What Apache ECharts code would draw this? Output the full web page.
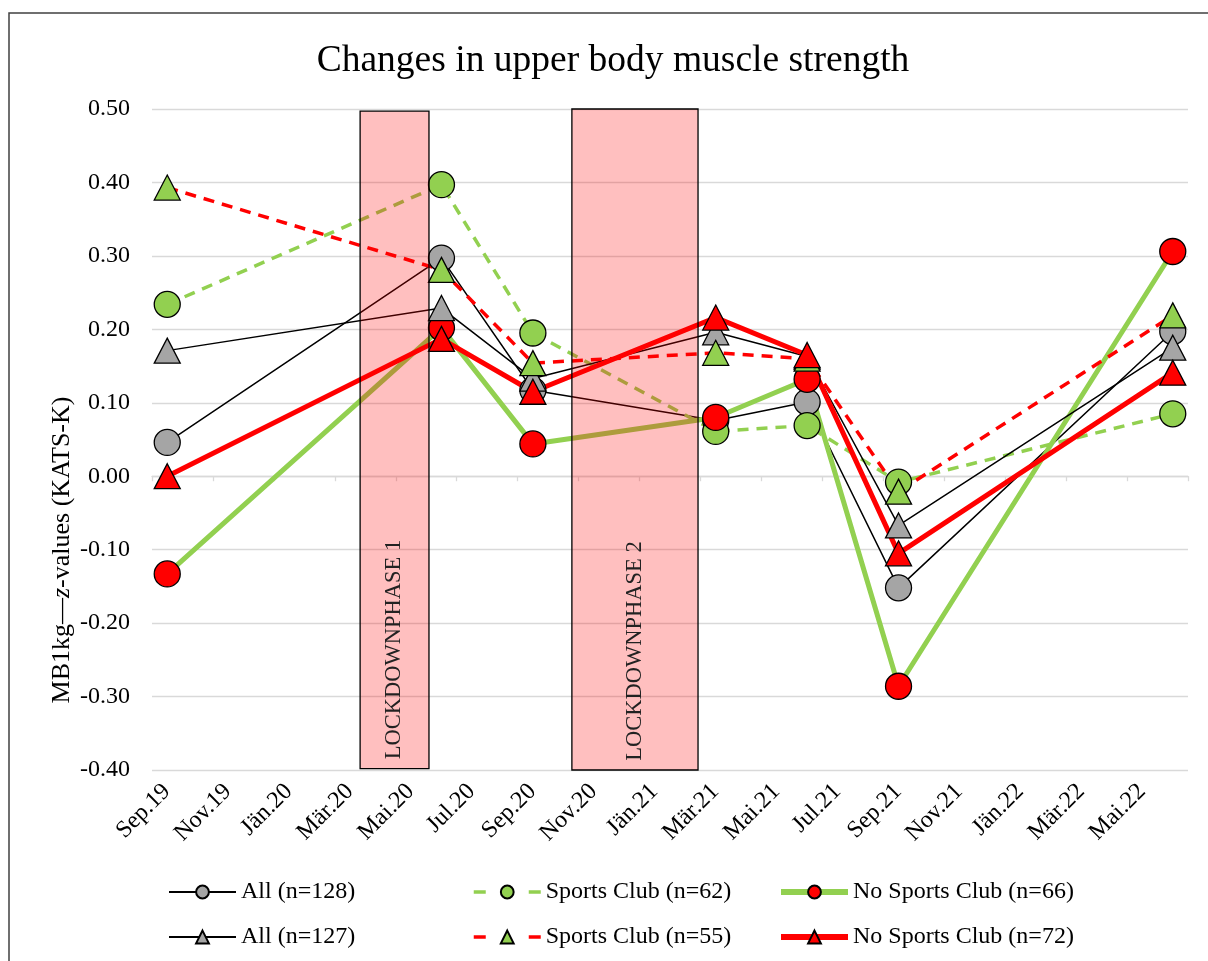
<!DOCTYPE html>
<html>
<head>
<meta charset="utf-8">
<script src="https://cdn.jsdelivr.net/npm/echarts@6/dist/echarts.min.js"></script>
<style>
  html, body { margin: 0; padding: 0; background: #fff; }
  #chart { width: 1208px; height: 961px; }
</style>
</head>
<body>
<div id="chart"></div>
<script>
// Tick labels every two months, starting Sep.19 (month 0)
const tickLabels = ['Sep.19','Nov.19','Jän.20','Mär.20','Mai.20','Jul.20','Sep.20','Nov.20','Jän.21','Mär.21','Mai.21','Jul.21','Sep.21','Nov.21','Jän.22','Mär.22','Mai.22'];
// Measurement dates as months since 1 Sep 2019 (mid-month): Sep.19, Jun.20, Sep.20, Mar.21, Jun.21, Sep.21, Jun.22
const months = [0.5, 9.5, 12.5, 18.5, 21.5, 24.5, 33.5];

const all128   = [0.046, 0.297, 0.117, 0.076, 0.101, -0.152, 0.197];
const sc62     = [0.234, 0.397, 0.195, 0.061, 0.069, -0.008, 0.085];
const nosc66   = [-0.133, 0.202, 0.044, 0.080, 0.132, -0.286, 0.306];
const all127   = [0.171, 0.229, 0.133, 0.196, 0.163, -0.067, 0.175];
const sc55     = [0.393, 0.281, 0.154, 0.168, 0.160, -0.021, 0.219];
const nosc72   = [0.000, 0.187, 0.115, 0.216, 0.165, -0.105, 0.141];

// Lockdown phases: [startMonth, endMonth, top, bottom]
const lockdown1 = [6.83, 9.09, 0.497, -0.398];
const lockdown2 = [13.78, 17.92, 0.503, -0.403];

const FONT = "'Liberation Serif', 'Times New Roman', serif";
const GREEN = '#92D050', RED = '#FF0000', GRAY = '#A5A5A5';

function pts(vals) { return months.map((m, i) => [m, vals[i]]); }

function mkSeries(name, vals, symbol, fill, lineColor, width, type) {
  return {
    name: name,
    type: 'line',
    data: pts(vals),
    symbol: symbol,
    symbolSize: symbol === 'circle' ? 26 : [26, 25],
    showSymbol: true,
    lineStyle: { color: lineColor, width: width, type: type },
    itemStyle: { color: fill, borderColor: '#000', borderWidth: 1.3 },
    z: 2,
    animation: false,
    emphasis: { disabled: true }
  };
}

const series = [
  mkSeries('All (n=128)', all128, 'circle', GRAY, '#000', 1.5, 'solid'),
  mkSeries('Sports Club (n=62)', sc62, 'circle', GREEN, GREEN, 3.5, [11, 8]),
  mkSeries('No Sports Club (n=66)', nosc66, 'circle', RED, GREEN, 5, 'solid'),
  mkSeries('All (n=127)', all127, 'triangle', GRAY, '#000', 1.5, 'solid'),
  mkSeries('Sports Club (n=55)', sc55, 'triangle', GREEN, RED, 3.5, [11, 8]),
  mkSeries('No Sports Club (n=72)', nosc72, 'triangle', RED, RED, 5, 'solid'),
  {
    name: 'lockdown',
    type: 'line',
    data: [],
    z: 10,
    silent: true,
    animation: false,
    markArea: {
      z: 10,
      silent: true,
      itemStyle: { color: 'rgba(255,0,0,0.25)', borderColor: '#000', borderWidth: 1.3 },
      label: {
        show: true, position: 'insideBottom', rotate: 90, distance: 10,
        align: 'left', verticalAlign: 'middle',
        fontFamily: FONT, fontSize: 22.5, color: '#222'
      },
      data: [
        [{ name: 'LOCKDOWNPHASE 1', xAxis: lockdown1[0], yAxis: lockdown1[2] }, { xAxis: lockdown1[1], yAxis: lockdown1[3] }],
        [{ name: 'LOCKDOWNPHASE 2', xAxis: lockdown2[0], yAxis: lockdown2[2] }, { xAxis: lockdown2[1], yAxis: lockdown2[3] }]
      ]
    }
  }
];

// legend name, left, top, icon line width, icon line type
const legendPos = [
  ['All (n=128)', 168, 880, 2, 'solid'], ['Sports Club (n=62)', 472, 880, 3.5, [12, 43]], ['No Sports Club (n=66)', 778, 880, 6, 'solid'],
  ['All (n=127)', 168, 925, 2, 'solid'], ['Sports Club (n=55)', 472, 925, 3.5, [12, 43]], ['No Sports Club (n=72)', 778, 925, 6, 'solid']
];

const option = {
  backgroundColor: '#fff',
  animation: false,
  title: {
    text: 'Changes in upper body muscle strength',
    left: 608, top: 37, textAlign: 'center',
    textStyle: { fontFamily: FONT, fontSize: 37.5, fontWeight: 'normal', color: '#000' }
  },
  grid: { left: 152, right: 20, top: 109, bottom: 191, containLabel: false, outerBoundsMode: 'none' },
  legend: legendPos.map(l => ({
    data: [l[0]], left: l[1], top: l[2], itemWidth: 67, itemHeight: 16, itemGap: 6, padding: 0,
    selectedMode: false,
    lineStyle: { width: l[3], type: l[4] },
    textStyle: { fontFamily: FONT, fontSize: 24, color: '#000' }
  })),
  xAxis: [
    {
      type: 'value', min: 0, max: 34, interval: 2, position: 'bottom',
      axisLine: { show: false, onZero: false },
      axisTick: { show: false },
      splitLine: { show: false },
      axisLabel: {
        rotate: 45, margin: 3,
        fontFamily: FONT, fontSize: 24, color: '#000',
        formatter: v => { const t = tickLabels[Math.round(v / 2)]; return t ? '{a|' + t + '}' : ''; },
        rich: { a: { fontFamily: FONT, fontSize: 24, color: '#000', padding: [42, 0, 0, 0] } }
      }
    },
    {
      type: 'value', min: 0, max: 34, interval: 2, position: 'bottom',
      axisLine: { show: true, onZero: true, onZeroAxisIndex: 0, lineStyle: { color: '#D9D9D9', width: 1.3 } },
      axisTick: { show: true, length: 5, lineStyle: { color: '#D9D9D9', width: 1.3 } },
      splitLine: { show: false },
      axisLabel: { show: false }
    }
  ],
  yAxis: {
    type: 'value', min: -0.4, max: 0.5, interval: 0.1,
    axisLine: { show: false }, axisTick: { show: false },
    splitLine: { lineStyle: { color: '#D9D9D9', width: 1.3 } },
    axisLabel: {
      margin: 22, fontFamily: FONT, fontSize: 24, color: '#000',
      formatter: v => v.toFixed(2)
    }
  },
  graphic: [
    {
      type: 'rect', z: -1, silent: true,
      shape: { x: 9, y: 13, width: 1300, height: 1100 },
      style: { fill: 'none', stroke: '#404040', lineWidth: 1.5 }
    },
    {
      type: 'text', x: 62, y: 550, rotation: Math.PI / 2, silent: true,
      style: {
        text: '{a|MB1kg—}{b|z}{a|-values (KATS-K)}',
        align: 'center', verticalAlign: 'middle',
        rich: {
          a: { fontFamily: FONT, fontSize: 26, fill: '#000', color: '#000' },
          b: { fontFamily: FONT, fontSize: 26, fontStyle: 'italic', fill: '#000', color: '#000' }
        }
      }
    }
  ],
  series: series
};

const chart = echarts.init(document.getElementById('chart'), null, { renderer: 'canvas' });
chart.setOption(option);
</script>
</body>
</html>
